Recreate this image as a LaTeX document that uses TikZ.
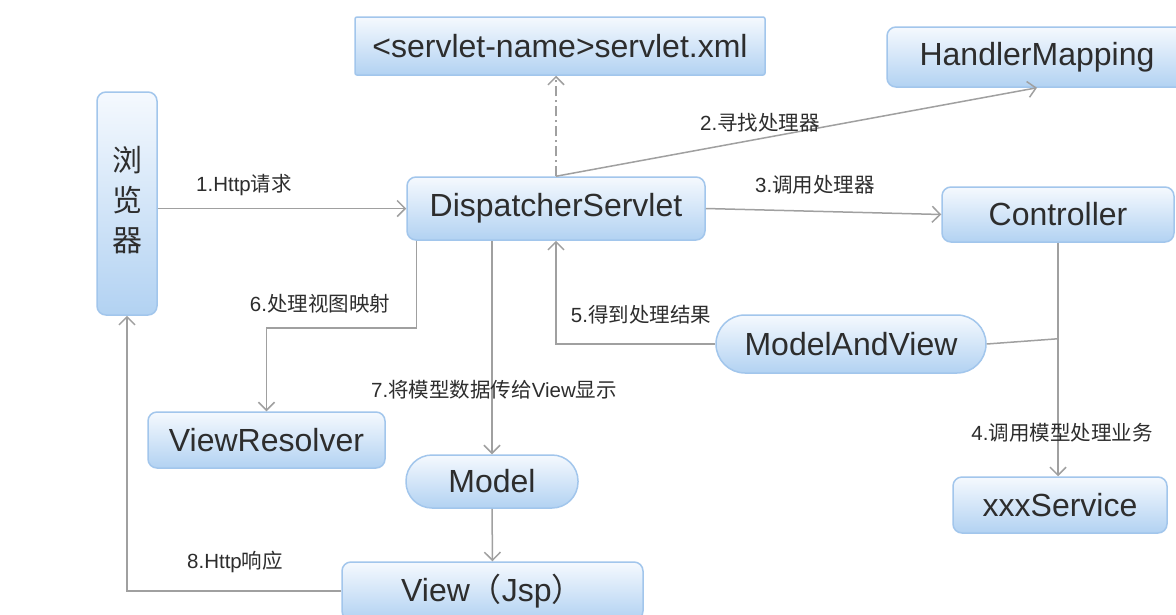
\documentclass[tikz,border=0pt]{standalone}
\usepackage{fontspec}
\setmainfont{Liberation Sans}
\newfontfamily\cjk{Noto Sans CJK SC}
\usepackage{tikz}
\usetikzlibrary{arrows.meta,positioning,calc}
\definecolor{boxtop}{RGB}{245,249,254}
\definecolor{boxbot}{RGB}{178,210,242}
\definecolor{boxline}{RGB}{162,198,236}
\definecolor{wire}{RGB}{160,160,160}
\definecolor{ink}{RGB}{45,45,45}
\newcommand{\nodefont}{\fontsize{32}{38}\selectfont}
\newcommand{\lblfont}{\fontsize{20.5}{24}\selectfont}

\begin{document}
\begin{tikzpicture}[x=1pt,y=-1pt,
  box/.style={draw=boxline,line width=1.5pt,rounded corners=9pt,top color=boxtop,bottom color=boxbot,text=ink,font=\nodefont,inner sep=0pt},
  pill/.style={box,rounded corners=26pt},
  flow/.style={draw=wire,line width=1.5pt,-{Straight Barb[length=8pt,width=16pt]}},
  wire/.style={draw=wire,line width=1.5pt},
  lbl/.style={text=ink,font=\lblfont,inner sep=0pt}]
  \clip (0,0) rectangle (1176,614);
  \fill[white] (0,0) rectangle (1176,614);
  % boxes
  \node[box,minimum width=60pt,minimum height=223pt,font=\cjk\fontsize{30}{40}\selectfont] (browser) at (127,203.5)
    {\raisebox{-6pt}{\begin{tabular}{@{}c@{}}浏\\览\\器\end{tabular}}};
  \node[box,rounded corners=2pt,minimum width=410pt,minimum height=58pt] (xml) at (560,46) {<servlet-name>servlet.xml};
  \node[box,minimum width=300pt,minimum height=60pt] (hm) at (1037,57) {HandlerMapping};
  \node[box,minimum width=298pt,minimum height=63pt] (ds) at (556,208.5) {DispatcherServlet};
  \node[box,minimum width=232pt,minimum height=55pt] (ctrl) at (1058,214.5) {Controller};
  \node[pill,rounded corners=29pt,minimum width=270pt,minimum height=58pt] (mav) at (851,344) {ModelAndView};
  \node[box,minimum width=214pt,minimum height=56pt] (svc) at (1060,505) {xxxService};
  \node[box,minimum width=237pt,minimum height=56pt] (vr) at (266.5,440) {ViewResolver};
  \node[pill,minimum width=172pt,minimum height=53pt] (model) at (492,481.5) {Model};
  \node[box,minimum width=301pt,minimum height=58pt] (view) at (492.5,591) {View{\cjk （}Jsp{\cjk ）}};
  % connectors
  \draw[flow] (browser.east |- ds.west) -- (ds.west);
  \draw[flow] (ds.north) -- (hm.south);
  \draw[flow,dash pattern=on 10pt off 4pt on 2pt off 4pt] (ds.north) -- (ds.north |- xml.south);
  \draw[flow] (ds.east) -- (ctrl.west);
  \draw[flow] (ctrl.south) -- (ctrl.south |- svc.north);
  \coordinate (back) at ($(ctrl.south)+(0,96)$);
  \draw[wire] (back) -- (mav.east);
  \draw[flow] (mav.west) -| (ds.south);
  \draw[flow] ([xshift=10pt]ds.south west) -- ++(0,87) -| (vr.north);
  \draw[flow] (model.north |- ds.south) -- (model.north);
  \draw[flow] (model.south) -- (view.north);
  \draw[flow] (view.west) -| (browser.south);
  % labels
  \node[lbl] (l1) at (244,185) {1.Http{\cjk 请求}};
  \node[lbl] (l2) at (760,123) {2.{\cjk 寻找处理器}};
  \node[lbl] (l3) at (815,185) {3.{\cjk 调用处理器}};
  \node[lbl] (l4) at (1062,433) {4.{\cjk 调用模型处理业务}};
  \node[lbl] (l5) at (641,315) {5.{\cjk 得到处理结果}};
  \node[lbl] (l6) at (320,304) {6.{\cjk 处理视图映射}};
  \node[lbl] (l7) at (494,390) {7.{\cjk 将模型数据传给}View{\cjk 显示}};
  \node[lbl] (l8) at (235,562) {8.Http{\cjk 响应}};
\end{tikzpicture}
\end{document}
